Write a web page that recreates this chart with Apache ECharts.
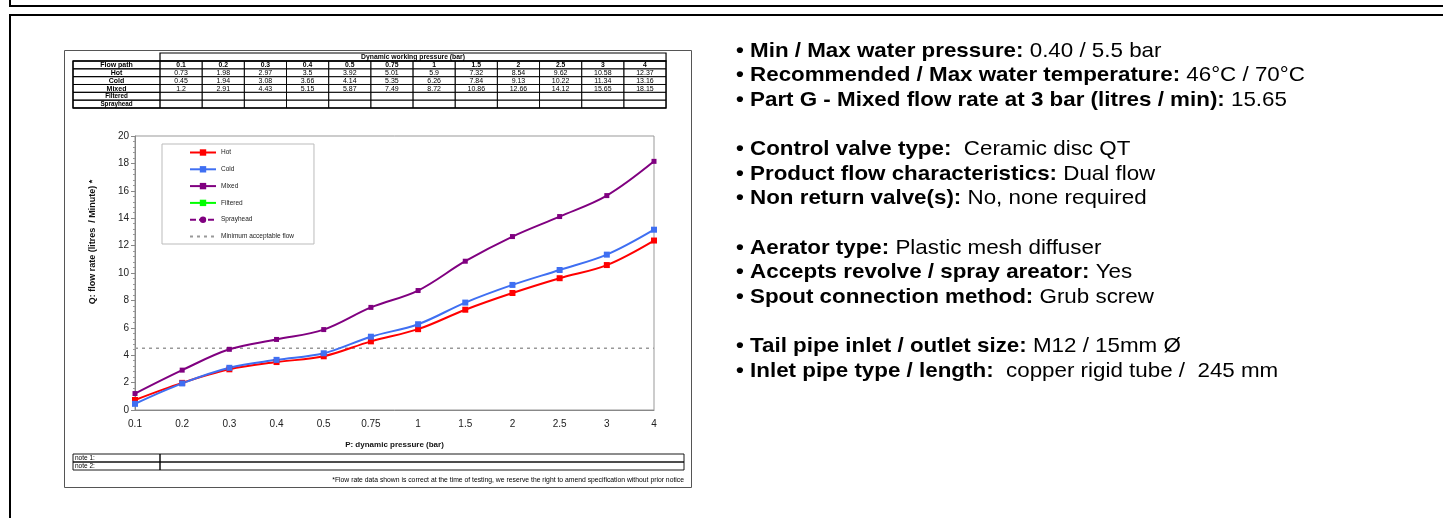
<!DOCTYPE html>
<html><head><meta charset="utf-8">
<script src="https://cdn.jsdelivr.net/npm/echarts@6/dist/echarts.min.js"></script>
<style>html,body{margin:0;padding:0;background:#fff}#c{width:1443px;height:518px}</style>
</head><body><div id="c"></div>
<script>
// ---- data ----
const pressures = ['0.1','0.2','0.3','0.4','0.5','0.75','1','1.5','2','2.5','3','4'];
const hot = [0.73,1.98,2.97,3.5,3.92,5.01,5.9,7.32,8.54,9.62,10.58,12.37];
const cold = [0.45,1.94,3.08,3.66,4.14,5.35,6.26,7.84,9.13,10.22,11.34,13.16];
const mixed = [1.2,2.91,4.43,5.15,5.87,7.49,8.72,10.86,12.66,14.12,15.65,18.15];
const filtered = [];
const sprayhead = [];
const minFlow = [4.5,4.5,4.5,4.5,4.5,4.5,4.5,4.5,4.5,4.5,4.5,4.5];
const seriesNames = ['Hot','Cold','Mixed','Filtered','Sprayhead','Minimum acceptable flow'];
const flowPaths = ['Hot','Cold','Mixed','Filtered','Sprayhead'];
const tableTitle = 'Dynamic working pressure (bar)';
const flowPathLabel = 'Flow path';
const notes = ['note 1:','note 2:'];
const footnote = '*Flow rate data shown is correct at the time of testing, we reserve the right to amend specification without prior notice';
const yTitle = 'Q: flow rate (litres  / Minute) *';
const xTitle = 'P: dynamic pressure (bar)';
const specLabels = ['• Min / Max water pressure:','• Recommended / Max water temperature:','• Part G - Mixed flow rate at 3 bar (litres / min):',null,
  '• Control valve type:','• Product flow characteristics:','• Non return valve(s):',null,
  '• Aerator type:','• Accepts revolve / spray areator:','• Spout connection method:',null,
  '• Tail pipe inlet / outlet size:','• Inlet pipe type / length:'];
const specValues = [' 0.40 / 5.5 bar',' 46°C / 70°C',' 15.65',null,
  '  Ceramic disc QT',' Dual flow',' No, none required',null,
  ' Plastic mesh diffuser',' Yes',' Grub screw',null,
  ' M12 / 15mm Ø','  copper rigid tube /  245 mm'];

// ---- layout ----
const FONT = '"Liberation Sans", Arial, sans-serif';
const graphics = [];
graphics.push({type:'rect', shape:{x:10,y:-10,width:1500,height:16}, style:{fill:'none',stroke:'#000',lineWidth:2}, silent:true});
graphics.push({type:'rect', shape:{x:10,y:15,width:1500,height:600}, style:{fill:'none',stroke:'#000',lineWidth:2}, silent:true});
graphics.push({type:'rect', shape:{x:64.5,y:50.5,width:627,height:437}, style:{fill:'none',stroke:'#555',lineWidth:1}, silent:true});

// top table
const tL = 73, c0 = 160, colW = 42.17, hTop = 53, hH = 8, rTop = 61, rH = 7.83;
function cellRect(x,y,w,h,lw){ graphics.push({type:'rect', shape:{x:x,y:y,width:w,height:h}, style:{fill:'none',stroke:'#000',lineWidth:lw||0.8}, silent:true}); }
function cellText(x,y,t,opts){ graphics.push({type:'text', x:x, y:y, silent:true, style:Object.assign({text:t, fontFamily:FONT, fontSize:6.8, fill:'#000', align:'center', verticalAlign:'middle'}, opts||{})}); }
cellRect(c0, hTop, colW*pressures.length, hH, 1.2);
cellText(c0 + colW*pressures.length/2, hTop + hH/2 + 0.5, tableTitle, {fontWeight:'bold'});
const rowLabels = [flowPathLabel].concat(flowPaths);
const rowVals = [pressures, hot, cold, mixed, filtered, sprayhead];
for (let r = 0; r < rowLabels.length; r++) {
  const y = rTop + r*rH;
  cellRect(tL, y, c0 - tL, rH, 1);
  cellText((tL + c0)/2, y + rH/2 + 0.3, rowLabels[r], {fontWeight:'bold', fontSize: r>=4 ? 6.3 : 7});
  for (let c = 0; c < pressures.length; c++) {
    const x = c0 + c*colW;
    cellRect(x, y, colW, rH, 0.8);
    const v = rowVals[r][c];
    if (v !== undefined) cellText(x + colW/2, y + rH/2 + 0.3, String(v), r===0 ? {fontWeight:'bold'} : {fontSize:7});
  }
}
graphics.push({type:'rect', shape:{x:tL,y:rTop,width:c0-tL+colW*pressures.length,height:rH*rowLabels.length}, style:{fill:'none',stroke:'#000',lineWidth:1.3}, silent:true});

// notes table
const nTop = 454, nH = 8, nR = 684;
for (let i = 0; i < notes.length; i++) {
  const y = nTop + i*nH;
  cellRect(tL, y, c0 - tL, nH, 0.9);
  cellRect(c0, y, nR - c0, nH, 0.9);
  cellText(tL + 2, y + nH/2 + 0.3, notes[i], {align:'left', fontSize:6.5});
}
cellText(nR, 480, footnote, {align:'right', fontSize:6.8});

// axis titles
graphics.push({type:'text', x:93, y:242, rotation:Math.PI/2, silent:true,
  style:{text:yTitle, fontFamily:FONT, fontSize:9, fontWeight:'bold', fill:'#111', align:'center', verticalAlign:'middle'}});

// spec text
for (let i = 0; i < specLabels.length; i++) {
  if (specLabels[i] === null) continue;
  graphics.push({type:'text', x:736, y:51 + i*24.6, scaleX:1.065, silent:true,
    style:{text:'{b|' + specLabels[i] + '}{r|' + specValues[i] + '}', fontFamily:FONT, verticalAlign:'middle', align:'left',
      rich:{b:{fontFamily:FONT, fontSize:21, fontWeight:'bold', fill:'#000'}, r:{fontFamily:FONT, fontSize:21, fill:'#000'}}}});
}

// ---- chart ----
const colors = {Hot:'#ff0000', Cold:'#3f6ff2', Mixed:'#800080', Filtered:'#00ff00', Sprayhead:'#800080'};
function lineSeries(name, data, symbol, size, dashed){
  return {name:name, type:'line', data:data, smooth:0.35, symbol:symbol, symbolSize:size, showSymbol:true,
    lineStyle:{width:2, color:colors[name], type: dashed ? [6,3] : 'solid'}, itemStyle:{color:colors[name]}};
}
const option = {
  animation:false,
  textStyle:{fontFamily:FONT},
  graphic: graphics,
  grid:{left:135, right:789, top:136, bottom:108, show:true, borderColor:'#999', borderWidth:1, backgroundColor:'transparent'},
  legend:{orient:'vertical', left:162, top:144, padding:[5,20,4,27], itemGap:9.8, itemWidth:26, itemHeight:8,
    backgroundColor:'#fff', borderColor:'#bbb', borderWidth:1, selectedMode:false,
    textStyle:{fontSize:6.5, color:'#222', fontFamily:FONT},
    data: seriesNames.map(function(n){ return n === 'Minimum acceptable flow' ? {name:n, itemStyle:{opacity:0}} : {name:n}; })},
  xAxis:{type:'category', data:pressures, boundaryGap:false,
    axisLine:{show:true, lineStyle:{color:'#888'}}, axisTick:{show:false},
    axisLabel:{fontSize:10, color:'#222', margin:9}, splitLine:{show:false},
    name:xTitle, nameLocation:'middle', nameGap:31, nameTextStyle:{fontWeight:'bold', fontSize:8, color:'#111'}},
  yAxis:{type:'value', min:0, max:20, interval:2,
    axisLine:{show:true, lineStyle:{color:'#888'}}, axisTick:{show:true, length:4, lineStyle:{color:'#888'}},
    minorTick:{show:true, splitNumber:5, length:2, lineStyle:{color:'#999'}},
    axisLabel:{fontSize:10, color:'#222', margin:6}, splitLine:{show:false}},
  series:[
    lineSeries('Hot', hot, 'rect', 6, false),
    lineSeries('Cold', cold, 'rect', 6, false),
    lineSeries('Mixed', mixed, 'rect', 5, false),
    lineSeries('Filtered', filtered, 'rect', 6, false),
    lineSeries('Sprayhead', sprayhead, 'circle', 6, true),
    {name:'Minimum acceptable flow', type:'line', data:minFlow, symbol:'none', smooth:false,
      lineStyle:{width:1.5, color:'#999', type:[3,4]}, itemStyle:{color:'#999'}, z:1}
  ]
};
const chart = echarts.init(document.getElementById('c'), null, {renderer:'canvas'});
chart.setOption(option);
</script></body></html>
